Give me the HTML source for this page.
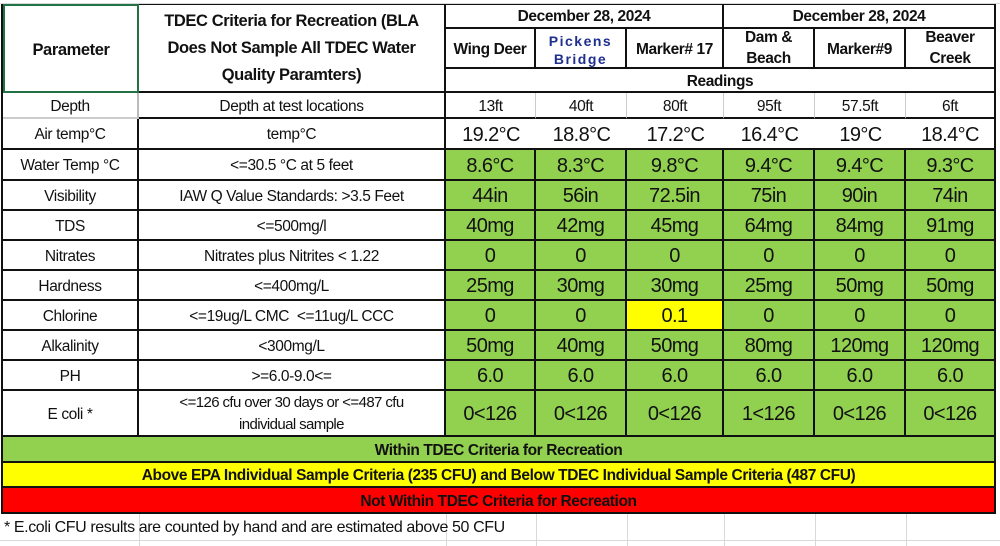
<!DOCTYPE html>
<html><head><meta charset="utf-8"><style>
body{margin:0;width:1000px;height:546px;background:#fff;position:relative;overflow:hidden;font-family:"Liberation Sans",sans-serif;color:#111}
.g{position:absolute;background:#d9d9d9}
.c{position:absolute;box-sizing:border-box;display:flex;align-items:center;justify-content:center;text-align:center;border-right:2px solid #111;border-bottom:2px solid #111;font-size:15.5px;letter-spacing:-0.4px;line-height:1.25;white-space:nowrap;padding-top:3px}
.v{font-size:20px;letter-spacing:-0.6px}
.gr{background:#92d050}
.b{font-weight:bold}
</style></head><body>
<div class="g" style="left:0;top:3px;width:1000px;height:1px"></div>
<div class="g" style="left:0;top:540px;width:1000px;height:1px"></div>
<div class="g" style="left:139px;top:514px;width:1px;height:32px"></div>
<div class="g" style="left:446px;top:514px;width:1px;height:32px"></div>
<div class="g" style="left:536px;top:514px;width:1px;height:32px"></div>
<div class="g" style="left:627px;top:514px;width:1px;height:32px"></div>
<div class="g" style="left:724px;top:514px;width:1px;height:32px"></div>
<div class="g" style="left:815px;top:514px;width:1px;height:32px"></div>
<div class="g" style="left:906px;top:514px;width:1px;height:32px"></div>

<div style="position:absolute;left:1px;top:4px;width:2px;height:510px;background:#111"></div>
<div style="position:absolute;left:3px;top:4px;width:993px;height:1px;background:#111"></div>

<div class="c b" style="left:3px;top:4px;width:136px;height:89px;font-size:16.5px;border:2px solid #217346">Parameter</div>
<div class="c b" style="left:139px;top:4px;width:307px;height:89px;font-size:16.5px;white-space:normal;line-height:27px;padding:2px 6px 0">TDEC Criteria for Recreation (BLA Does Not Sample All TDEC Water Quality Paramters)</div>
<div class="c b" style="left:446px;top:4px;width:278px;height:25px">December 28, 2024</div>
<div class="c b" style="left:724px;top:4px;width:272px;height:25px">December 28, 2024</div>
<div class="c b" style="left:446px;top:29px;width:90px;height:40px">Wing Deer</div>
<div class="c b" style="left:536px;top:29px;width:91px;height:40px;color:#1f2f8f;letter-spacing:1.5px;font-size:14px;line-height:18px;white-space:normal">Pickens Bridge</div>
<div class="c b" style="left:627px;top:29px;width:97px;height:40px">Marker# 17</div>
<div class="c b" style="left:724px;top:29px;width:91px;height:40px;white-space:normal;line-height:21px;padding-top:0">Dam &amp; Beach</div>
<div class="c b" style="left:815px;top:29px;width:91px;height:40px">Marker#9</div>
<div class="c b" style="left:906px;top:29px;width:90px;height:40px;white-space:normal;line-height:21px;padding-top:0">Beaver Creek</div>
<div class="c b" style="left:446px;top:69px;width:550px;height:24px">Readings</div>

<div class="c" style="left:3px;top:93px;width:136px;height:26px;border-right-color:#bbb;border-bottom-color:#ccc">Depth</div>
<div class="c" style="left:139px;top:93px;width:307px;height:26px">Depth at test locations</div>
<div class="c" style="left:446px;top:93px;width:90px;height:26px;border-right:1px solid #ccc">13ft</div>
<div class="c" style="left:536px;top:93px;width:91px;height:26px;border-right:1px solid #ccc">40ft</div>
<div class="c" style="left:627px;top:93px;width:97px;height:26px;border-right:1px solid #ccc">80ft</div>
<div class="c" style="left:724px;top:93px;width:91px;height:26px;border-right:1px solid #ccc">95ft</div>
<div class="c" style="left:815px;top:93px;width:91px;height:26px;border-right:1px solid #ccc">57.5ft</div>
<div class="c" style="left:906px;top:93px;width:90px;height:26px">6ft</div>
<div class="c" style="left:3px;top:119px;width:136px;height:31px">Air temp°C</div>
<div class="c" style="left:139px;top:119px;width:307px;height:31px">temp°C</div>
<div class="c v" style="left:446px;top:119px;width:90px;height:31px;border-right:0">19.2°C</div>
<div class="c v" style="left:536px;top:119px;width:91px;height:31px;border-right:0">18.8°C</div>
<div class="c v" style="left:627px;top:119px;width:97px;height:31px;border-right:0">17.2°C</div>
<div class="c v" style="left:724px;top:119px;width:91px;height:31px;border-right:0">16.4°C</div>
<div class="c v" style="left:815px;top:119px;width:91px;height:31px;border-right:0">19°C</div>
<div class="c v" style="left:906px;top:119px;width:90px;height:31px">18.4°C</div>

<div class="c" style="left:3px;top:150px;width:136px;height:31px">Water Temp °C</div>
<div class="c" style="left:139px;top:150px;width:307px;height:31px">&lt;=30.5 °C at 5 feet</div>
<div class="c v gr" style="left:446px;top:150px;width:90px;height:31px">8.6°C</div>
<div class="c v gr" style="left:536px;top:150px;width:91px;height:31px">8.3°C</div>
<div class="c v gr" style="left:627px;top:150px;width:97px;height:31px">9.8°C</div>
<div class="c v gr" style="left:724px;top:150px;width:91px;height:31px">9.4°C</div>
<div class="c v gr" style="left:815px;top:150px;width:91px;height:31px">9.4°C</div>
<div class="c v gr" style="left:906px;top:150px;width:90px;height:31px">9.3°C</div>
<div class="c" style="left:3px;top:181px;width:136px;height:30px">Visibility</div>
<div class="c" style="left:139px;top:181px;width:307px;height:30px">IAW Q Value Standards: &gt;3.5 Feet</div>
<div class="c v gr" style="left:446px;top:181px;width:90px;height:30px">44in</div>
<div class="c v gr" style="left:536px;top:181px;width:91px;height:30px">56in</div>
<div class="c v gr" style="left:627px;top:181px;width:97px;height:30px">72.5in</div>
<div class="c v gr" style="left:724px;top:181px;width:91px;height:30px">75in</div>
<div class="c v gr" style="left:815px;top:181px;width:91px;height:30px">90in</div>
<div class="c v gr" style="left:906px;top:181px;width:90px;height:30px">74in</div>
<div class="c" style="left:3px;top:211px;width:136px;height:30px">TDS</div>
<div class="c" style="left:139px;top:211px;width:307px;height:30px">&lt;=500mg/l</div>
<div class="c v gr" style="left:446px;top:211px;width:90px;height:30px">40mg</div>
<div class="c v gr" style="left:536px;top:211px;width:91px;height:30px">42mg</div>
<div class="c v gr" style="left:627px;top:211px;width:97px;height:30px">45mg</div>
<div class="c v gr" style="left:724px;top:211px;width:91px;height:30px">64mg</div>
<div class="c v gr" style="left:815px;top:211px;width:91px;height:30px">84mg</div>
<div class="c v gr" style="left:906px;top:211px;width:90px;height:30px">91mg</div>
<div class="c" style="left:3px;top:241px;width:136px;height:30px">Nitrates</div>
<div class="c" style="left:139px;top:241px;width:307px;height:30px">Nitrates plus Nitrites &lt; 1.22</div>
<div class="c v gr" style="left:446px;top:241px;width:90px;height:30px">0</div>
<div class="c v gr" style="left:536px;top:241px;width:91px;height:30px">0</div>
<div class="c v gr" style="left:627px;top:241px;width:97px;height:30px">0</div>
<div class="c v gr" style="left:724px;top:241px;width:91px;height:30px">0</div>
<div class="c v gr" style="left:815px;top:241px;width:91px;height:30px">0</div>
<div class="c v gr" style="left:906px;top:241px;width:90px;height:30px">0</div>
<div class="c" style="left:3px;top:271px;width:136px;height:30px">Hardness</div>
<div class="c" style="left:139px;top:271px;width:307px;height:30px">&lt;=400mg/L</div>
<div class="c v gr" style="left:446px;top:271px;width:90px;height:30px">25mg</div>
<div class="c v gr" style="left:536px;top:271px;width:91px;height:30px">30mg</div>
<div class="c v gr" style="left:627px;top:271px;width:97px;height:30px">30mg</div>
<div class="c v gr" style="left:724px;top:271px;width:91px;height:30px">25mg</div>
<div class="c v gr" style="left:815px;top:271px;width:91px;height:30px">50mg</div>
<div class="c v gr" style="left:906px;top:271px;width:90px;height:30px">50mg</div>
<div class="c" style="left:3px;top:301px;width:136px;height:30px">Chlorine</div>
<div class="c" style="left:139px;top:301px;width:307px;height:30px">&lt;=19ug/L CMC&nbsp; &lt;=11ug/L CCC</div>
<div class="c v gr" style="left:446px;top:301px;width:90px;height:30px">0</div>
<div class="c v gr" style="left:536px;top:301px;width:91px;height:30px">0</div>
<div class="c v" style="left:627px;top:301px;width:97px;height:30px;background:#ffff00">0.1</div>
<div class="c v gr" style="left:724px;top:301px;width:91px;height:30px">0</div>
<div class="c v gr" style="left:815px;top:301px;width:91px;height:30px">0</div>
<div class="c v gr" style="left:906px;top:301px;width:90px;height:30px">0</div>
<div class="c" style="left:3px;top:331px;width:136px;height:30px">Alkalinity</div>
<div class="c" style="left:139px;top:331px;width:307px;height:30px">&lt;300mg/L</div>
<div class="c v gr" style="left:446px;top:331px;width:90px;height:30px">50mg</div>
<div class="c v gr" style="left:536px;top:331px;width:91px;height:30px">40mg</div>
<div class="c v gr" style="left:627px;top:331px;width:97px;height:30px">50mg</div>
<div class="c v gr" style="left:724px;top:331px;width:91px;height:30px">80mg</div>
<div class="c v gr" style="left:815px;top:331px;width:91px;height:30px">120mg</div>
<div class="c v gr" style="left:906px;top:331px;width:90px;height:30px">120mg</div>
<div class="c" style="left:3px;top:361px;width:136px;height:30px">PH</div>
<div class="c" style="left:139px;top:361px;width:307px;height:30px">&gt;=6.0-9.0&lt;=</div>
<div class="c v gr" style="left:446px;top:361px;width:90px;height:30px">6.0</div>
<div class="c v gr" style="left:536px;top:361px;width:91px;height:30px">6.0</div>
<div class="c v gr" style="left:627px;top:361px;width:97px;height:30px">6.0</div>
<div class="c v gr" style="left:724px;top:361px;width:91px;height:30px">6.0</div>
<div class="c v gr" style="left:815px;top:361px;width:91px;height:30px">6.0</div>
<div class="c v gr" style="left:906px;top:361px;width:90px;height:30px">6.0</div>
<div class="c" style="left:3px;top:391px;width:136px;height:46px">E coli *</div>
<div class="c" style="left:139px;top:391px;width:307px;height:46px;white-space:normal;padding:2px 20px 0;line-height:22px;font-size:15px;letter-spacing:-0.6px"><span>&lt;=126 cfu over 30 days or &lt;=487 cfu<br>individual sample</span></div>
<div class="c v gr" style="left:446px;top:391px;width:90px;height:46px">0&lt;126</div>
<div class="c v gr" style="left:536px;top:391px;width:91px;height:46px">0&lt;126</div>
<div class="c v gr" style="left:627px;top:391px;width:97px;height:46px">0&lt;126</div>
<div class="c v gr" style="left:724px;top:391px;width:91px;height:46px">1&lt;126</div>
<div class="c v gr" style="left:815px;top:391px;width:91px;height:46px">0&lt;126</div>
<div class="c v gr" style="left:906px;top:391px;width:90px;height:46px">0&lt;126</div>
<div class="c b gr" style="left:3px;top:437px;width:993px;height:26px">Within TDEC Criteria for Recreation</div>
<div class="c b" style="left:3px;top:463px;width:993px;height:25px;background:#ffff00">Above EPA Individual Sample Criteria (235 CFU) and Below TDEC Individual Sample Criteria (487 CFU)</div>
<div class="c b" style="left:3px;top:488px;width:993px;height:26px;background:#ff0000">Not Within TDEC Criteria for Recreation</div>
<div style="position:absolute;left:4px;top:515px;width:990px;height:26px;display:flex;align-items:center;font-size:16px;letter-spacing:-0.4px">* E.coli CFU results are counted by hand and are estimated above 50 CFU</div>
</body></html>
